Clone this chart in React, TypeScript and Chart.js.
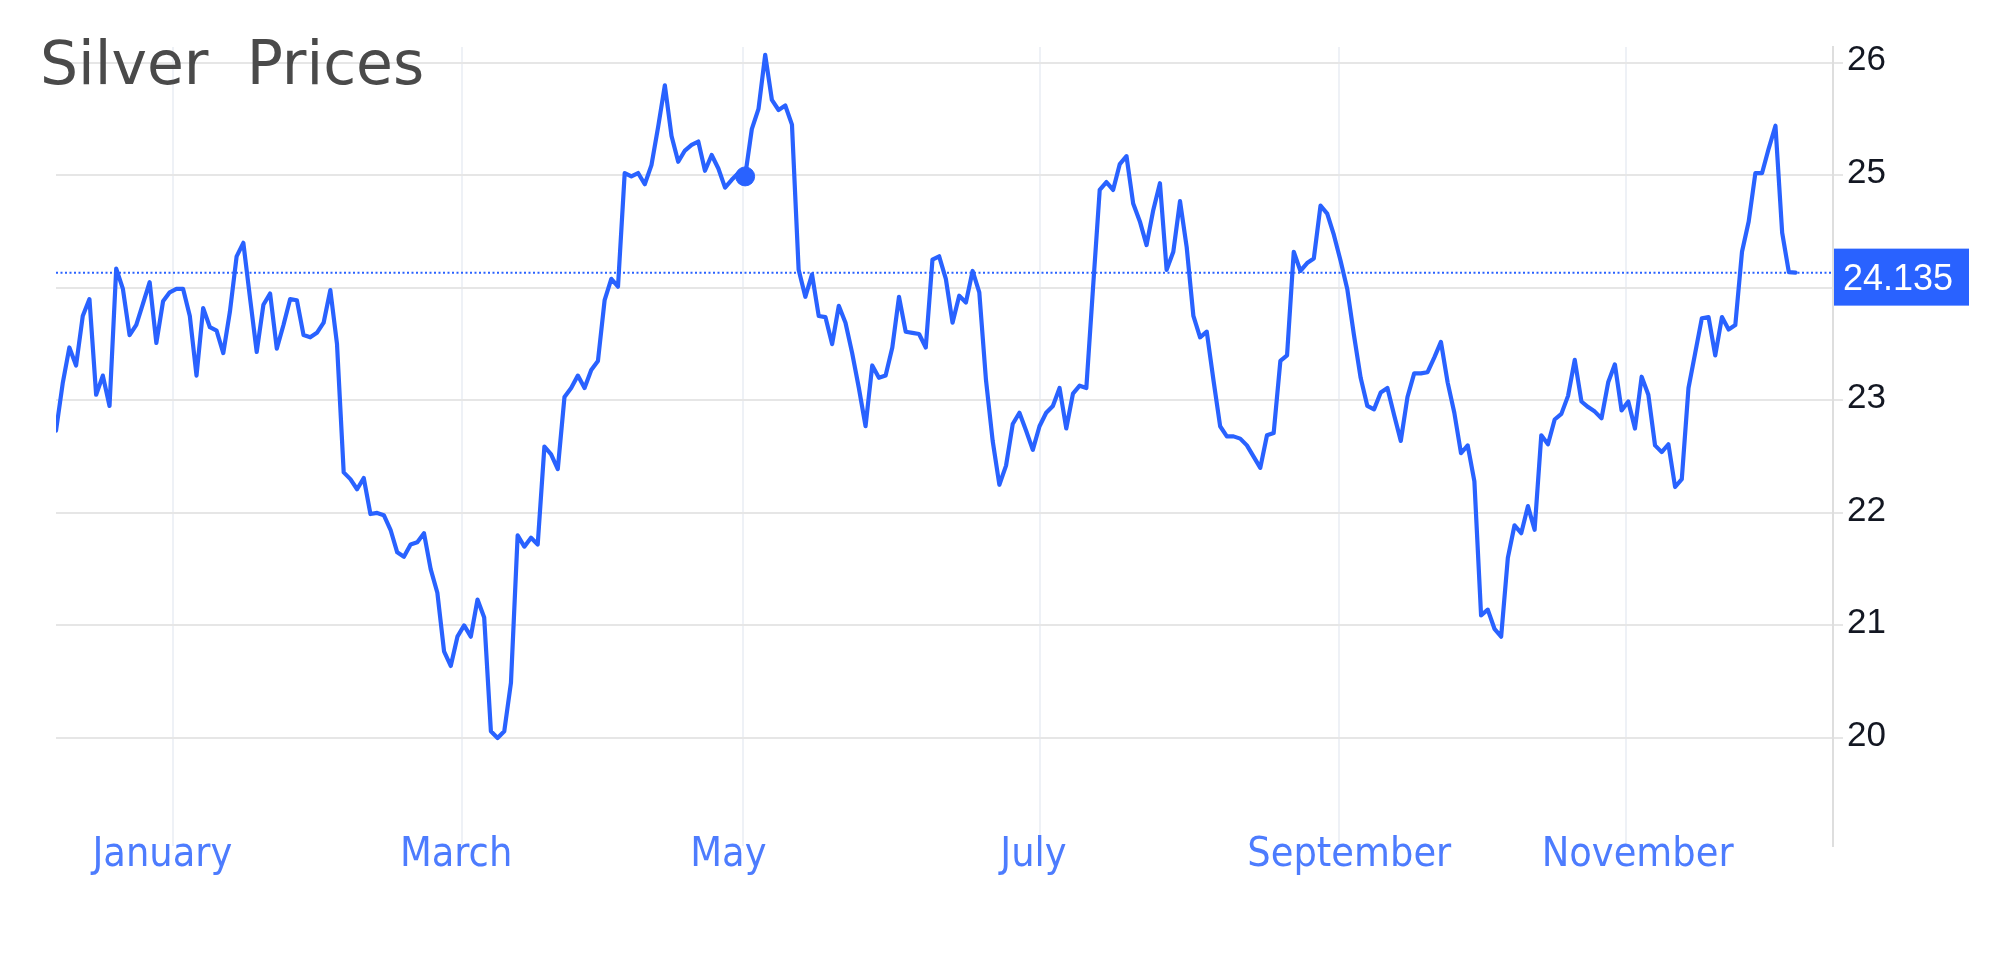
import React, { useEffect, useRef } from "react";
import { Chart, registerables } from "chart.js";

Chart.register(...registerables);

// ---------- data ----------
const TITLE = "Silver  Prices";

const prices: number[] = [
  22.73, 23.15, 23.47, 23.31, 23.75, 23.9, 23.05, 23.22, 22.95, 24.17,
  23.99, 23.58, 23.67, 23.86, 24.05, 23.51, 23.88, 23.96, 23.99, 23.99,
  23.75, 23.22, 23.82, 23.65, 23.62, 23.42, 23.79, 24.28, 24.4, 23.91,
  23.43, 23.85, 23.95, 23.46, 23.67, 23.9, 23.89, 23.58, 23.56, 23.6,
  23.69, 23.98, 23.5, 22.36, 22.3, 22.21, 22.31, 21.99, 22.0, 21.98,
  21.85, 21.65, 21.61, 21.72, 21.74, 21.82, 21.5, 21.29, 20.77, 20.64,
  20.9, 21.0, 20.9, 21.23, 21.07, 20.06, 20.0, 20.06, 20.49, 21.8,
  21.7, 21.78, 21.72, 22.59, 22.52, 22.39, 23.03, 23.11, 23.22, 23.11,
  23.27, 23.35, 23.89, 24.08, 24.01, 25.02, 24.99, 25.02, 24.92, 25.09,
  25.43, 25.8, 25.35, 25.12, 25.22, 25.27, 25.3, 25.04, 25.18, 25.06,
  24.89, 24.96, 25.02, 24.99, 25.41, 25.59, 26.07, 25.67, 25.58, 25.62,
  25.45, 24.16, 23.92, 24.12, 23.75, 23.74, 23.5, 23.84, 23.69, 23.42,
  23.11, 22.77, 23.31, 23.2, 23.22, 23.47, 23.92, 23.61, 23.6, 23.59,
  23.47, 24.25, 24.28, 24.08, 23.69, 23.93, 23.87, 24.15, 23.96, 23.18,
  22.64, 22.25, 22.42, 22.79, 22.89, 22.73, 22.56, 22.77, 22.89, 22.95,
  23.11, 22.75, 23.06, 23.13, 23.11, 24.0, 24.87, 24.94, 24.87, 25.1,
  25.17, 24.75, 24.59, 24.38, 24.69, 24.93, 24.16, 24.32, 24.77, 24.36,
  23.75, 23.56, 23.61, 23.18, 22.77, 22.68, 22.68, 22.66, 22.6, 22.5,
  22.4, 22.69, 22.71, 23.35, 23.4, 24.32, 24.15, 24.22, 24.26, 24.73,
  24.66, 24.47, 24.24, 23.99, 23.58, 23.2, 22.95, 22.92, 23.07, 23.11,
  22.87, 22.64, 23.03, 23.24, 23.24, 23.25, 23.38, 23.52, 23.16, 22.89,
  22.53, 22.6, 22.28, 21.09, 21.14, 20.97, 20.9, 21.6, 21.89, 21.82,
  22.06, 21.85, 22.69, 22.61, 22.83, 22.88, 23.04, 23.36, 22.99, 22.94,
  22.9, 22.84, 23.16, 23.32, 22.91, 22.99, 22.75, 23.21, 23.05, 22.6,
  22.54, 22.61, 22.23, 22.3, 23.11, 23.42, 23.73, 23.74, 23.4, 23.74,
  23.63, 23.67, 24.32, 24.59, 25.02, 25.02, 25.24, 25.44, 24.49, 24.14,
  24.135,
];

// month grid lines and month labels, in trading-day index units
const monthGridPositions: number[] = [17.43, 60.63, 102.75, 147.1, 191.7, 234.7];
const monthLabelPositions: number[] = [15.9, 59.8, 100.5, 146.1, 193.3, 236.4];
const monthLabels: string[] = ["January", "March", "May", "July", "September", "November"];

const yTickValues: number[] = [20, 21, 22, 23, 24, 25, 26];
const hiddenYTickLabels: number[] = [24];

const highlightIndex = 103;

const X_MIN = 0;
const X_MAX = 265.6;
const Y_MIN = 19.04;
const Y_MAX = 26.14;

// ---------- styles ----------
const BLUE = "#2962ff";
const W = 2009;
const H = 961;

export default function App() {
  const canvasRef = useRef<HTMLCanvasElement | null>(null);

  useEffect(() => {
    document.body.style.margin = "0";
    document.body.style.overflow = "hidden";
    const canvas = canvasRef.current;
    if (!canvas) return;

    const last = prices[prices.length - 1];
    const lineData = prices.map((v, i) => ({ x: i, y: v }));
    const lastLine = [
      { x: X_MIN, y: last },
      { x: X_MAX, y: last },
    ];

    const overlayPlugin = {
      id: "overlayPlugin",
      afterDraw(chart: any) {
        const ctx: CanvasRenderingContext2D = chart.ctx;
        const area = chart.chartArea;
        const py = chart.scales.y.getPixelForValue(last);
        ctx.save();
        // last price tag
        ctx.fillStyle = BLUE;
        ctx.fillRect(area.right + 1, py - 24, 135, 57);
        ctx.fillStyle = "#ffffff";
        ctx.font = '36px "Liberation Sans", Arial, sans-serif';
        ctx.textAlign = "left";
        ctx.textBaseline = "alphabetic";
        ctx.fillText(last.toFixed(3), area.right + 10, py + 17);
        // title
        ctx.fillStyle = "#4a4a4a";
        ctx.font = '60px "DejaVu Sans", sans-serif';
        ctx.fillText(TITLE, 40, 84);
        ctx.restore();
      },
    };

    const chart = new Chart(canvas, {
      type: "line",
      data: {
        datasets: [
          {
            data: lineData,
            borderColor: BLUE,
            backgroundColor: BLUE,
            borderWidth: 4.2,
            borderJoinStyle: "round",
            borderCapStyle: "round",
            tension: 0,
            pointRadius: (c: any) => (c.dataIndex === highlightIndex ? 9.5 : 0),
            pointBackgroundColor: BLUE,
            pointBorderColor: BLUE,
            pointBorderWidth: 1,
            order: 0,
          } as any,
          {
            data: lastLine,
            borderColor: BLUE,
            borderWidth: 2,
            borderDash: [2, 2.5],
            pointRadius: 0,
            tension: 0,
            order: 1,
          } as any,
        ],
      },
      options: {
        responsive: false,
        animation: false,
        events: [],
        layout: { padding: { left: 56, top: 47, right: 0, bottom: 0 } },
        plugins: {
          legend: { display: false },
          tooltip: { enabled: false },
          title: { display: false },
        },
        scales: {
          x: {
            type: "linear",
            position: "bottom",
            min: X_MIN,
            max: X_MAX,
            afterBuildTicks: (s: any) => {
              s.ticks = monthGridPositions.map((v) => ({ value: v }));
            },
            afterFit: (s: any) => {
              s.height = 0;
            },
            ticks: { display: false },
            grid: { color: "#eef1f6", lineWidth: 2, drawTicks: false },
            border: { display: false },
          },
          x2: {
            type: "linear",
            position: "bottom",
            min: X_MIN,
            max: X_MAX,
            afterBuildTicks: (s: any) => {
              s.ticks = monthLabelPositions.map((v) => ({ value: v }));
            },
            afterFit: (s: any) => {
              s.height = H - 846;
            },
            ticks: {
              autoSkip: false,
              maxRotation: 0,
              minRotation: 0,
              mirror: true,
              padding: -34,
              color: "#4d7cfe",
              font: { family: "'DejaVu Sans Condensed', 'DejaVu Sans'", size: 41 },
              callback: (_v: any, i: number) => monthLabels[i],
            },
            grid: { display: false, drawTicks: false },
            border: { display: false },
          },
          y: {
            type: "linear",
            position: "right",
            min: Y_MIN,
            max: Y_MAX,
            afterBuildTicks: (s: any) => {
              s.ticks = yTickValues.map((v) => ({ value: v }));
            },
            afterFit: (s: any) => {
              s.width = W - 1833;
            },
            ticks: {
              padding: 4,
              labelOffset: -2,
              color: "#131722",
              font: { family: "'Liberation Sans'", size: 35 },
              callback: (v: any) => (hiddenYTickLabels.includes(Number(v)) ? "" : String(v)),
            },
            grid: { color: "#e6e6e6", lineWidth: 2, tickLength: 10, drawTicks: true },
            border: { display: true, color: "#dedede", width: 2 },
          },
        },
      } as any,
      plugins: [overlayPlugin],
    });

    return () => {
      chart.destroy();
    };
  }, []);

  return (
    <div style={{ position: "fixed", left: 0, top: 0, width: W, height: H, background: "#ffffff" }}>
      <canvas ref={canvasRef} width={W} height={H} style={{ display: "block", width: W, height: H }} />
    </div>
  );
}
